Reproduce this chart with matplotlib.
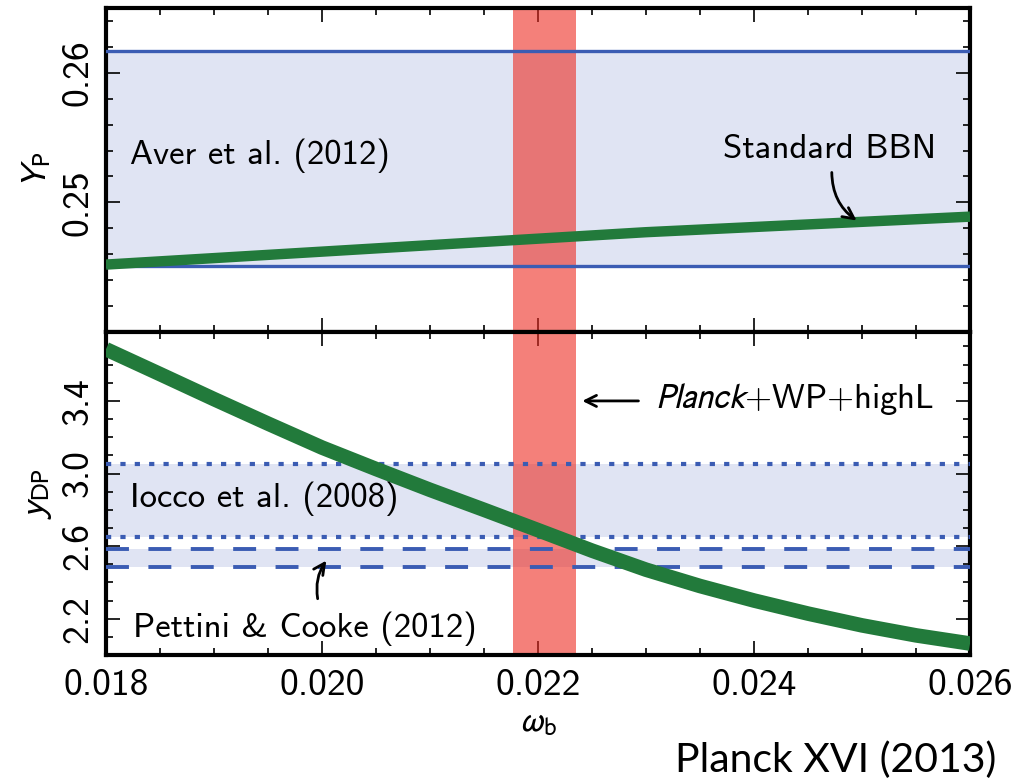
import numpy as np
import matplotlib
matplotlib.use('Agg')
import matplotlib.pyplot as plt
from matplotlib.ticker import MultipleLocator, FixedLocator

# standard BBN helium prediction
omega_b_he = [0.018, 0.019, 0.020, 0.021, 0.022, 0.023, 0.024, 0.025, 0.026]
yp_bbn = [0.2452, 0.2457, 0.2462, 0.2467, 0.2472, 0.2477, 0.2481, 0.2485, 0.2489]

# standard BBN deuterium prediction
omega_b_d = [0.0180, 0.0185, 0.0190, 0.0195, 0.0200, 0.0205, 0.0210, 0.0215, 0.0220,
             0.0225, 0.0230, 0.0235, 0.0240, 0.0245, 0.0250, 0.0255, 0.0260]
ydp_bbn = [3.685, 3.548, 3.410, 3.275, 3.143, 3.025, 2.910, 2.800, 2.688,
           2.575, 2.470, 2.380, 2.300, 2.228, 2.163, 2.108, 2.063]

# observational bands
aver_band = [0.2451, 0.2617]       # Aver et al. (2012)
iocco_band = [2.65, 3.05]          # Iocco et al. (2008)
pettini_band = [2.485, 2.585]      # Pettini & Cooke (2012)
planck_band = [0.02177, 0.02235]   # Planck+WP+highL

yp_ticks = [0.25, 0.26]
ydp_ticks = [2.2, 2.6, 3.0, 3.4]

SANS = 'cmss10'
BLUE = '#3b5cb3'
FILL = '#e0e4f3'
GREEN = '#227a3b'
RED = (0.93, 0.17, 0.13)
ARROW = dict(arrowstyle='->', lw=2, color='black', shrinkA=0, shrinkB=0, mutation_scale=20)

fig = plt.figure(figsize=(10.15, 7.8), dpi=100)
ax1 = fig.add_axes([0.1044, 0.5744, 0.8513, 0.4153])
ax2 = fig.add_axes([0.1044, 0.1603, 0.8513, 0.4141], sharex=ax1)

for ax in (ax1, ax2):
    for s in ax.spines.values():
        s.set_linewidth(3)
    ax.tick_params(which='both', direction='in', top=True, right=True, width=1.2)
    ax.tick_params(which='major', length=10)
    ax.tick_params(which='minor', length=5)
    ax.xaxis.set_major_locator(MultipleLocator(0.002))
    ax.xaxis.set_minor_locator(MultipleLocator(0.0005))
    ax.axvspan(planck_band[0], planck_band[1], color=RED, alpha=0.6, lw=0, zorder=2)

# top panel: helium
ax1.axhspan(aver_band[0], aver_band[1], color=FILL, lw=0, zorder=1)
for v in aver_band:
    ax1.axhline(v, color=BLUE, lw=2.4, zorder=3)
ax1.plot(omega_b_he, yp_bbn, color=GREEN, lw=7.5, solid_capstyle='butt',
         solid_joinstyle='round', zorder=4)
ax1.set_xlim(0.018, 0.026)
ax1.set_ylim(0.24, 0.265)
ax1.yaxis.set_major_locator(FixedLocator(yp_ticks))
ax1.yaxis.set_minor_locator(MultipleLocator(0.002))
ax1.tick_params(labelbottom=False)
ax1.set_ylabel(r'$Y_{\mathrm{P}}$', fontsize=26, math_fontfamily='stixsans', labelpad=6)
ax1.text(0.01822, 0.2536, 'Aver et al. (2012)', family=SANS, fontsize=25, va='center', zorder=5)
ax1.text(0.02470, 0.2541, 'Standard BBN', family=SANS, fontsize=25, ha='center', va='center', zorder=5)
ax1.annotate('', xy=(0.02495, 0.2486), xytext=(0.02472, 0.25231),
             arrowprops=dict(ARROW, connectionstyle='arc3,rad=0.25'), zorder=5)

# bottom panel: deuterium
ax2.axhspan(iocco_band[0], iocco_band[1], color=FILL, lw=0, zorder=1)
ax2.axhspan(pettini_band[0], pettini_band[1], color=FILL, lw=0, zorder=1)
for v in iocco_band:
    ax2.axhline(v, color=BLUE, lw=3.0, linestyle=(0, (1.25, 2.2)), zorder=3)
for v in pettini_band:
    ax2.axhline(v, color=BLUE, lw=2.8, linestyle=(0, (5.9, 5.0)), zorder=3)
ax2.plot(omega_b_d, ydp_bbn, color=GREEN, lw=10.5, solid_capstyle='butt',
         solid_joinstyle='round', zorder=4)
ax2.set_ylim(2.0, 3.78)
ax2.yaxis.set_major_locator(FixedLocator(ydp_ticks))
ax2.yaxis.set_minor_locator(MultipleLocator(0.1))
ax2.set_ylabel(r'$y_{\mathrm{DP}}$', fontsize=26, math_fontfamily='stixsans', labelpad=6)
ax2.set_xlabel(r'$\omega_{\mathrm{b}}$', fontsize=26, math_fontfamily='stixsans', labelpad=2)
ax2.text(0.01822, 2.86, 'Iocco et al. (2008)', family=SANS, fontsize=25, va='center', zorder=5)
ax2.text(0.01825, 2.145, 'Pettini & Cooke (2012)', family=SANS, fontsize=25, va='center', zorder=5)
ax2.annotate('', xy=(0.02004, 2.52), xytext=(0.01996, 2.31),
             arrowprops=dict(ARROW, connectionstyle='arc3,rad=-0.2'), zorder=5)
ax2.text(0.02308, 3.41, r'$\mathit{Planck}$+WP+highL', family=SANS, math_fontfamily='stixsans',
         fontsize=25, va='center', zorder=5)
ax2.annotate('', xy=(0.02241, 3.40), xytext=(0.02293, 3.40), arrowprops=ARROW, zorder=5)

for ax in (ax1, ax2):
    for lab in ax.get_yticklabels():
        lab.set_rotation(90)
        lab.set_va('center')
        lab.set_family(SANS)
        lab.set_fontsize(27)
    for lab in ax.get_xticklabels():
        lab.set_family(SANS)
        lab.set_fontsize(27)
    ax.tick_params(axis='y', pad=8)
    ax.tick_params(axis='x', pad=10)

fig.text(0.982, 0.025, 'Planck XVI (2013)', family='Lato', fontsize=29.5, ha='right', va='center')

fig.savefig('out.png', dpi=100)
